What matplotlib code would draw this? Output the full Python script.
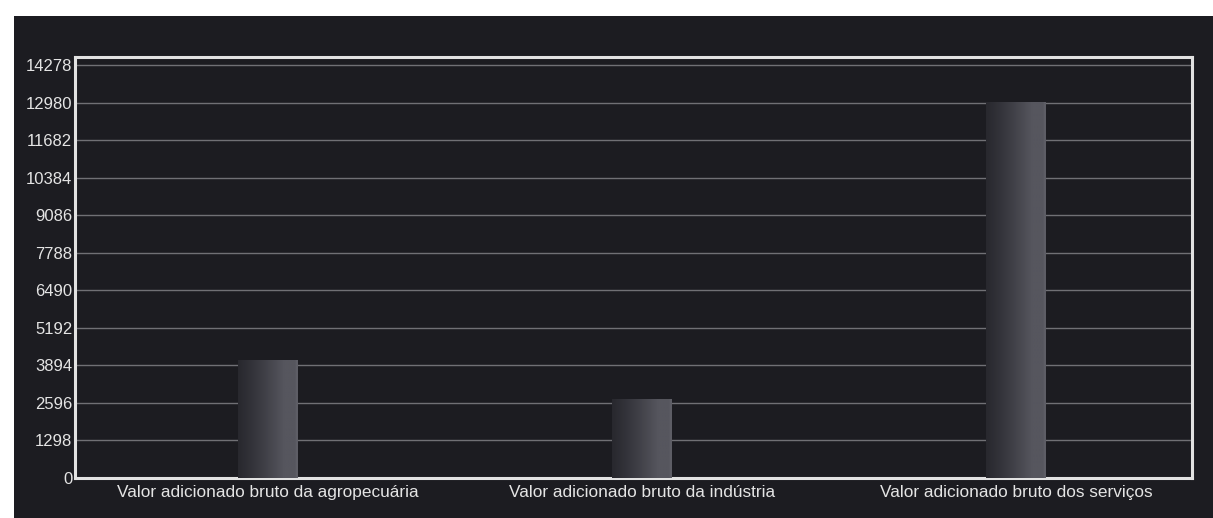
import numpy as np
import matplotlib.pyplot as plt
from matplotlib.colors import to_rgb
from matplotlib.patches import Rectangle

categories = [
    "Valor adicionado bruto da agropecuária",
    "Valor adicionado bruto da indústria",
    "Valor adicionado bruto dos serviços",
]
values = [4090, 2740, 12990]
y_ticks = [0, 1298, 2596, 3894, 5192, 6490, 7788, 9086, 10384, 11682, 12980, 14278]

bg = "#1c1c21"
plt.rcParams["font.family"] = ["Liberation Sans", "DejaVu Sans"]

fig = plt.figure(figsize=(12.13, 5.18), dpi=100)
fig.patch.set_facecolor("white")
# dark panel behind the chart
fig.patches.append(Rectangle((14 / 1213, 0), 1, (518 - 16) / 518,
                             transform=fig.transFigure, facecolor=bg,
                             edgecolor="none", zorder=-10))

ax = fig.add_axes([75 / 1213, 40 / 518, (1192 - 75) / 1213, (478 - 57) / 518])
ax.set_facecolor(bg)

x = np.arange(len(categories))
bars = ax.bar(x, values, width=0.16, color="#3c3c42", zorder=2)

# horizontal shading on each bar: dark left side, lighter right side
t = np.linspace(0, 1, 80)
mix = np.clip(0.15 + 1.1 * t, 0, 1) ** 1.3
mix[-3:] = 1.15
c0, c1 = np.array(to_rgb("#24242a")), np.array(to_rgb("#56565e"))
shade = np.clip(c0[None, :] + mix[:, None] * (c1 - c0)[None, :], 0, 1)[None, :, :]
for b in bars:
    x0, w, h = b.get_x(), b.get_width(), b.get_height()
    im = ax.imshow(shade, aspect="auto", extent=(x0, x0 + w, 0, h),
                   zorder=3, interpolation="bilinear")
    im.set_clip_path(b)

ax.set_xlim(-0.516, 2.471)
ax.set_ylim(0, 14278 * 1.02)
ax.set_yticks(y_ticks)
ax.set_yticklabels([str(v) for v in y_ticks])
ax.set_xticks(x)
ax.set_xticklabels(categories)
ax.yaxis.grid(True, color="#707075", linewidth=1.0, zorder=1)
ax.set_axisbelow(True)

for s in ax.spines.values():
    s.set_color("#e2e2e2")
    s.set_linewidth(2.2)

ax.tick_params(axis="y", colors="#e4e4e4", labelsize=12, length=0, pad=2)
ax.tick_params(axis="x", colors="#e4e4e4", labelsize=12.4, length=0, pad=5)

fig.savefig("out.png", dpi=100, facecolor=fig.get_facecolor())
